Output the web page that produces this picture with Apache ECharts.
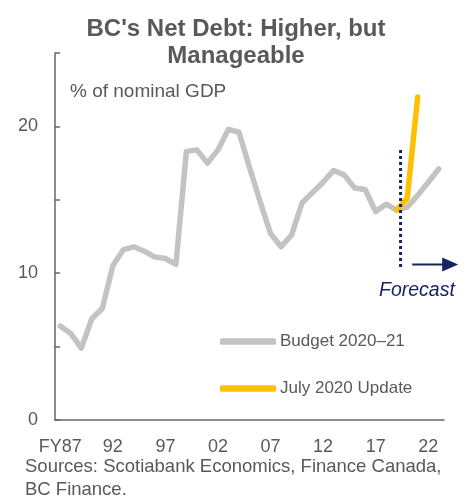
<!DOCTYPE html>
<html>
<head>
<meta charset="utf-8">
<script src="https://cdn.jsdelivr.net/npm/echarts@6/dist/echarts.min.js"></script>
<style>html,body{margin:0;padding:0;background:#fff;}#c{width:472px;height:498px;}</style>
</head>
<body>
<div id="c"></div>
<script>
const categories = ['FY87','88','89','90','91','92','93','94','95','96','97','98','99','00','01','02','03','04','05','06','07','08','09','10','11','12','13','14','15','16','17','18','19','20','21','22','23'];
const budget = [6.4,5.9,4.9,6.9,7.6,10.5,11.6,11.8,11.5,11.1,11.0,10.6,18.3,18.4,17.5,18.4,19.8,19.6,17.2,14.9,12.7,11.8,12.6,14.8,15.5,16.2,17.0,16.7,15.8,15.7,14.2,14.7,14.3,14.5,15.3,16.2,17.1];
const julyUpdate = [null,null,null,null,null,null,null,null,null,null,null,null,null,null,null,null,null,null,null,null,null,null,null,null,null,null,null,null,null,null,null,null,14.3,15.1,22.0,null,null];
const yTicks = [0,10,20];

const FONT = 'Liberation Sans, Arial, sans-serif';
const TXT = '#595959';
const NAVY = '#13245f';

const chart = echarts.init(document.getElementById('c'), null, {renderer:'canvas'});
const option = {
  animation: false,
  backgroundColor: '#fff',
  textStyle: {fontFamily: FONT},
  title: {
    text: "BC's Net Debt: Higher, but\nManageable",
    left: 'center',
    top: 11,
    textStyle: {fontFamily: FONT, fontSize: 24, fontWeight: 'bold', color: TXT, lineHeight: 27, align:'center'}
  },
  legend: {
    orient: 'vertical',
    left: 220,
    top: 333,
    padding: 0,
    itemGap: 30,
    itemWidth: 56,
    itemHeight: 6.5,
    icon: 'roundRect',
    textStyle: {fontFamily: FONT, fontSize: 17, color: TXT, padding:[0,0,0,-1]},
    data: ['Budget 2020–21', 'July 2020 Update']
  },
  grid: {left: 55, right: 28, top: 53, bottom: 78, containLabel: false},
  xAxis: {
    type: 'category',
    data: categories,
    boundaryGap: true,
    axisLine: {lineStyle: {color: '#666', width: 1.5}},
    axisTick: {inside: true, length: 5, interval: 3, lineStyle: {color: '#666', width: 1.5}},
    axisLabel: {interval: 4, color: TXT, fontSize: 18, fontFamily: FONT, margin: 18}
  },
  yAxis: {
    type: 'value',
    min: 0, max: 25, interval: 5,
    splitLine: {show: false},
    axisLine: {show: true, lineStyle: {color: '#666', width: 1.5}},
    axisTick: {show: true, inside: true, length: 5, lineStyle: {color: '#666', width: 1.5}},
    axisLabel: {color: TXT, fontSize: 18, fontFamily: FONT, margin: 17,
      formatter: v => yTicks.indexOf(v) >= 0 ? String(v) : ''}
  },
  series: [
    {
      name: 'Budget 2020–21', type: 'line', data: budget, showSymbol: false, symbol: 'none',
      lineStyle: {color: '#c3c3c3', width: 5.5, cap: 'round', join: 'round'},
      itemStyle: {color: '#c3c3c3'}, z: 2
    },
    {
      name: 'July 2020 Update', type: 'line', data: julyUpdate, showSymbol: false, symbol: 'none',
      connectNulls: false,
      lineStyle: {color: '#ffc000', width: 5.5, cap: 'round', join: 'round'},
      itemStyle: {color: '#ffc000'}, z: 3
    }
  ]
};
chart.setOption(option);

// annotations placed via axis conversion
const a = chart.convertToPixel({gridIndex:0}, [32, 18.4]);
const b = chart.convertToPixel({gridIndex:0}, [33, 10.4]);
const lx = a[0] + (b[0]-a[0])*0.37;
const arr0 = chart.convertToPixel({gridIndex:0}, [33, 10.6]);
const arrY = arr0[1];
const ax = arr0[0] + 5;
chart.setOption({
  graphic: [
    {type:'line', shape:{x1:lx, y1:a[1], x2:lx, y2:b[1]}, style:{stroke:NAVY, lineWidth:3, lineDash:[3,3]}, z:10},
    {type:'line', shape:{x1:ax, y1:arrY, x2:ax+32, y2:arrY}, style:{stroke:NAVY, lineWidth:2}, z:10},
    {type:'polygon', shape:{points:[[ax+30, arrY-7],[ax+46, arrY],[ax+30, arrY+7]]}, style:{fill:NAVY}, z:10},
    {type:'text', left: 379, top: 281, style:{text:'Forecast', font:'italic 19.5px ' + FONT, fill:NAVY}, z:10},
    {type:'text', left: 70, top: 82, style:{text:'% of nominal GDP', font:'19px ' + FONT, fill:TXT}},
    {type:'text', left: 25, top: 456, style:{text:'Sources: Scotiabank Economics, Finance Canada,\nBC Finance.', font:'18.5px ' + FONT, fill:TXT, lineHeight:22.5}}
  ]
});
</script>
</body>
</html>
